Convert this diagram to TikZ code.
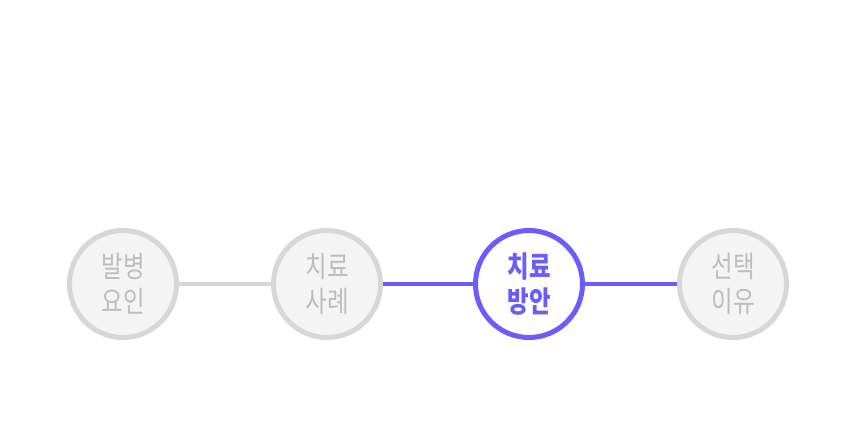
\documentclass[tikz,border=0pt]{standalone}
\usepackage{fontspec}
\setmainfont{Noto Sans CJK KR}[FakeStretch=0.8]
\usepackage{tikz}

\definecolor{stepgrey}{HTML}{D7D7D7}
\definecolor{stepfill}{HTML}{F4F4F4}
\definecolor{steptext}{HTML}{BDBDBD}
\definecolor{steppurple}{HTML}{6B5CFF}

\begin{document}
\begin{tikzpicture}[x=0.75pt,y=-0.75pt,
    stepnode/.style={circle,draw=stepgrey,fill=stepfill,line width=3.75pt,minimum size=80.25pt,inner sep=0pt,align=center,text=steptext,font=\fontsize{22pt}{26pt}\selectfont},
    activenode/.style={stepnode,draw=steppurple,fill=white,text=steppurple,font=\fontsize{22pt}{26pt}\selectfont\bfseries},
    linkline/.style={line width=3pt}]

      \useasboundingbox (0,0) rectangle (858,435);

      \node[stepnode] (cause) at (123,284){발병\\요인};
      \node[stepnode] (case) at (327,284){치료\\사례};
      \node[activenode] (plan) at (529,284){치료\\방안};
      \node[stepnode] (reason) at (733,284){선택\\이유};

      \draw[linkline,stepgrey] (cause) -- (case);
      \draw[linkline,steppurple] (case) -- (plan);
      \draw[linkline,steppurple] (plan) -- (reason);

    \end{tikzpicture}
\end{document}
